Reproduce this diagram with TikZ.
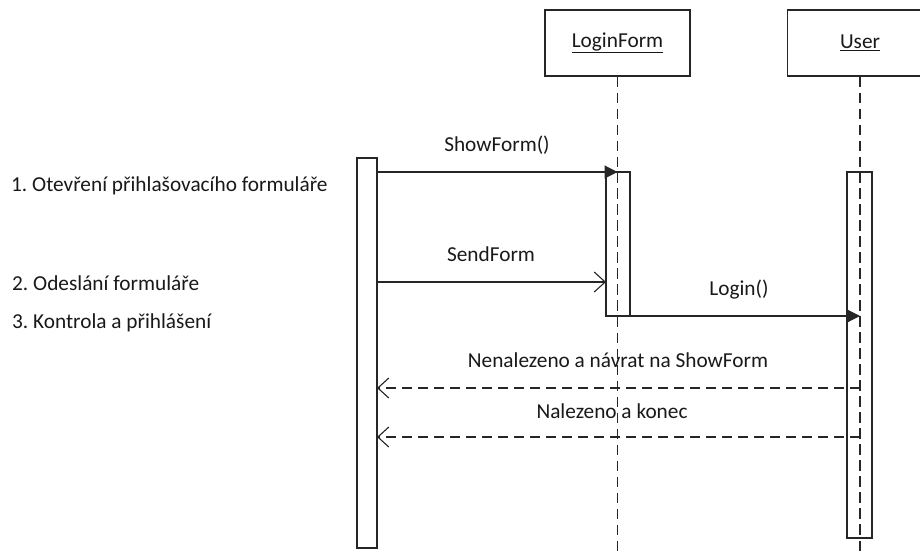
\documentclass[tikz,border=0pt]{standalone}
\usepackage{fontspec}
\setmainfont{Carlito}
\usetikzlibrary{arrows.meta}
\frenchspacing
\begin{document}
\begin{tikzpicture}[x=1pt,y=-1pt,
  every node/.style={font=\fontsize{21.3}{25}\selectfont, text=black!90},
  ln/.style={draw=black!85, line width=1.1pt},
  objbox/.style={ln, minimum width=145pt, minimum height=66pt, inner sep=0pt},
  actbar/.style={ln, fill=white},
  lifeline/.style={ln, dash pattern=on 10pt off 6pt},
  callmsg/.style={ln, -{Triangle[length=13pt,width=13pt]}},
  sendmsg/.style={ln, -{Straight Barb[length=11pt,width=20pt,line width=1.1pt]}},
  retmsg/.style={ln, dash pattern=on 10pt off 6pt, -{Straight Barb[length=11pt,width=20pt,line width=1.1pt]}},
  msglabel/.style={inner sep=0pt},
  steplabel/.style={anchor=west, inner sep=0pt}]
\useasboundingbox (0,0) rectangle (920,552);

% objects and lifelines
\node[objbox] (lf) at (617.5,43) {\underline{LoginForm}};
\node[objbox] (us) at (860,43) {\underline{User}};
\coordinate (lfend) at (617.5,552);
\coordinate (usend) at (860,552);
\draw[lifeline] (lf.south) -- (lfend);
\draw[lifeline] (us.south) -- (usend);

% activation bars
\draw[actbar] (357,158) rectangle (377,548);
\draw[ln] (606,172) rectangle (630,316);
\draw[ln] (847,172) rectangle (872,538);
\draw[lifeline] (617.5,172) -- (617.5,316);
\draw[lifeline] (860,172) -- (860,538);

\coordinate (a1) at (377,172);  \coordinate (b1) at (617.5,172);
\coordinate (a2) at (377,282);  \coordinate (b2) at (606,282);
\coordinate (a3) at (606,316);  \coordinate (b3) at (860,316);
\coordinate (a4) at (860,388);  \coordinate (b4) at (377,388);
\coordinate (a5) at (860,437);  \coordinate (b5) at (377,437);

% messages
\draw[callmsg] (a1) -- (b1);
\draw[sendmsg] (a2) -- (b2);
\draw[callmsg] (a3) -- (b3);
\draw[retmsg]  (a4) -- (b4);
\draw[retmsg]  (a5) -- (b5);

\node[msglabel] (m1) at (497,145) {ShowForm()};
\node[msglabel] (m2) at (491,254) {SendForm};
\node[msglabel] (m3) at (739,290) {Login()};
\node[msglabel] (m4) at (618,360) {Nenalezeno a návrat na ShowForm};
\node[msglabel] (m5) at (612,411) {Nalezeno a konec};

% step descriptions
\node[steplabel] (s1) at (11,186) {1. Otevření přihlašovacího formuláře};
\node[steplabel] (s2) at (12,283) {2. Odeslání formuláře};
\node[steplabel] (s3) at (12,323) {3. Kontrola a přihlášení};
\end{tikzpicture}
\end{document}
